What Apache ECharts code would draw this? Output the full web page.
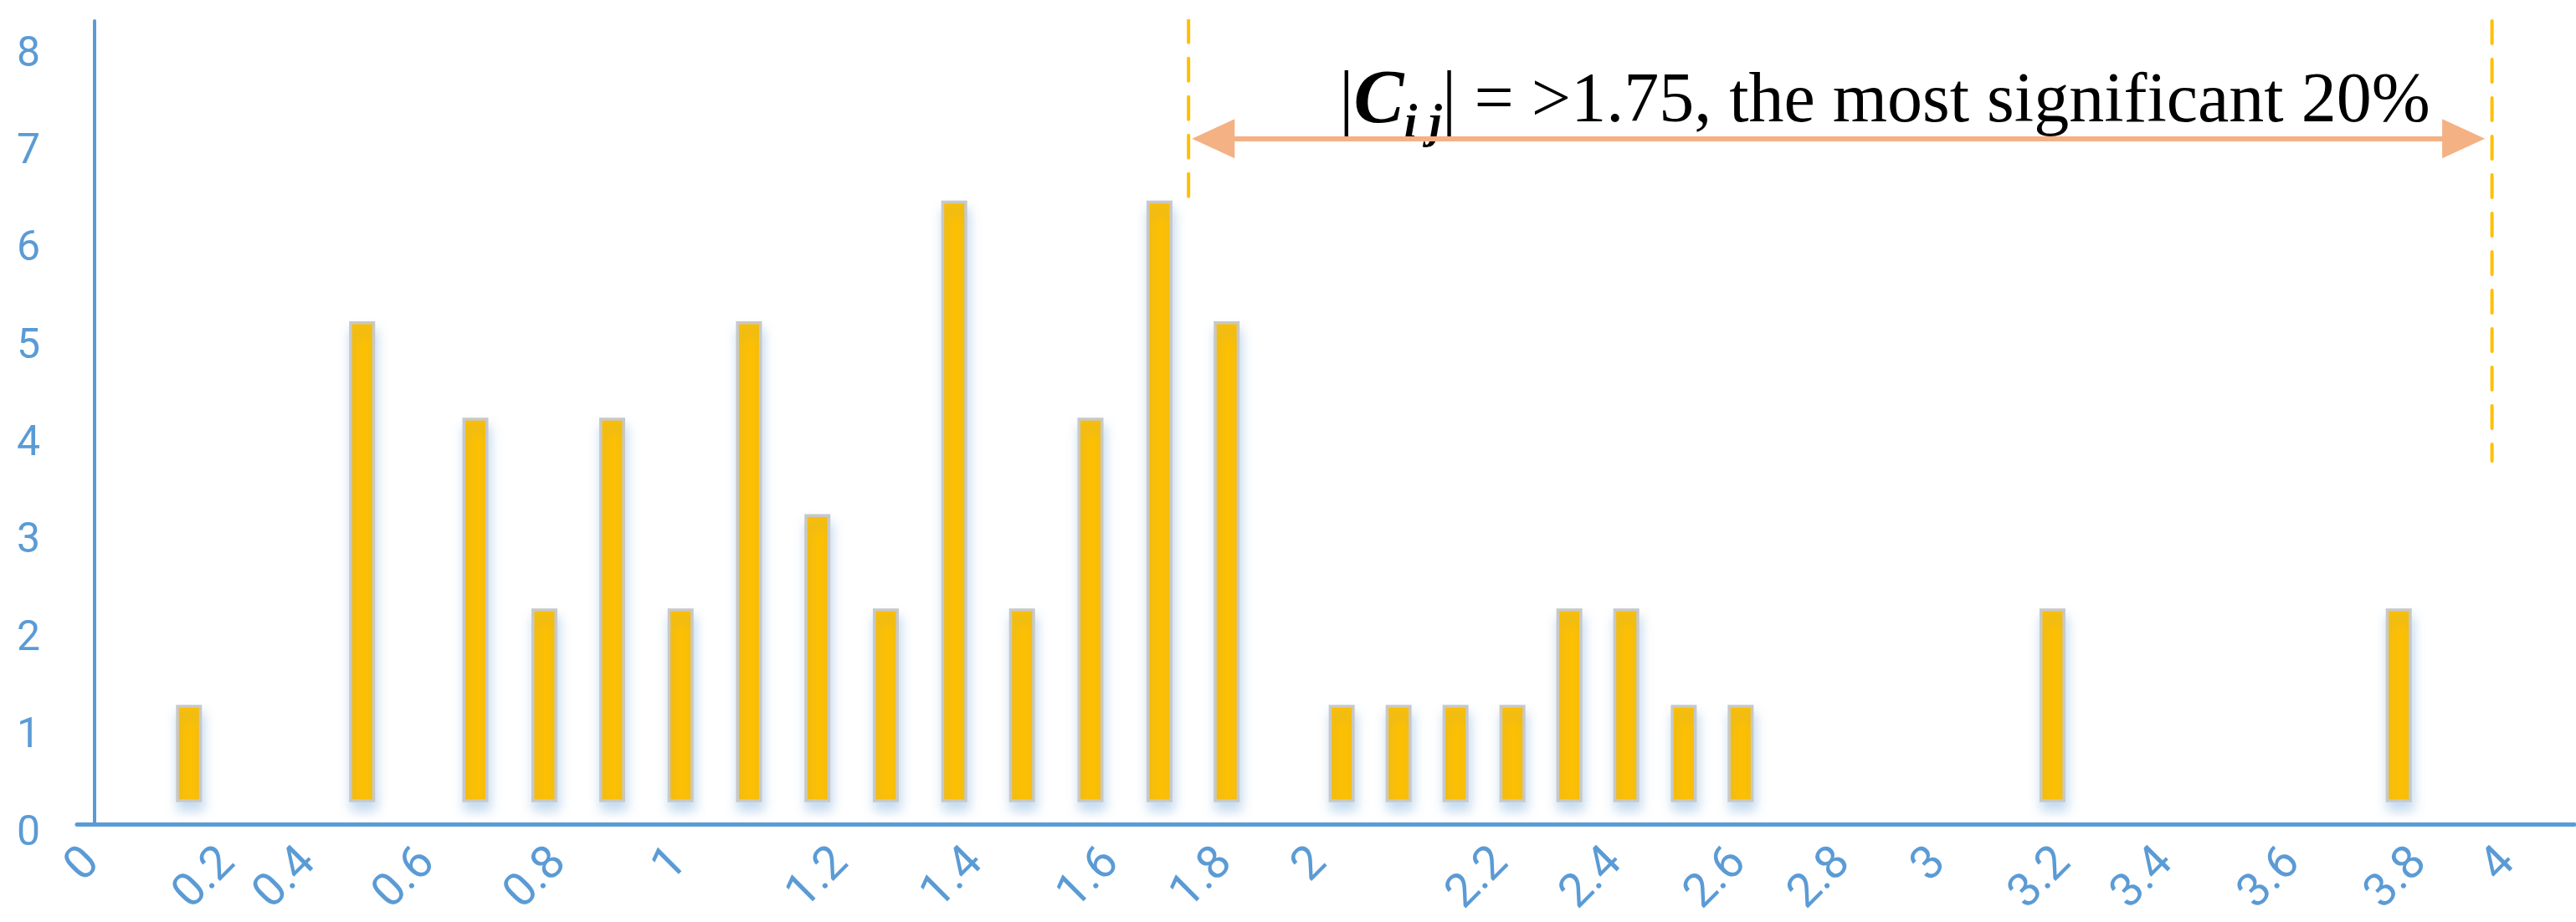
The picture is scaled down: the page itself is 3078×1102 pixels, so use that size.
<!DOCTYPE html>
<html>
<head>
<meta charset="utf-8">
<script src="https://cdn.jsdelivr.net/npm/echarts@6/dist/echarts.min.js"></script>
<style>
  html, body { margin: 0; padding: 0; background: #fff; }
  #chart { width: 3078px; height: 1102px; }
</style>
</head>
<body>
<div id="chart"></div>
<script>
// bar positions along the |Cij| axis
var barX = [0.157, 0.443, 0.630, 0.744, 0.856, 0.969, 1.082, 1.195, 1.308, 1.421, 1.533, 1.646,
            1.760, 1.871, 2.061, 2.155, 2.249, 2.343, 2.437, 2.531, 2.626, 2.720, 3.235, 3.807];
// top of each bar (y axis units)
var barTop = [1.21, 5.15, 4.16, 2.20, 4.16, 2.20, 5.15, 3.17, 2.20, 6.39, 2.20, 4.16,
              6.39, 5.15, 1.21, 1.21, 1.21, 1.21, 2.20, 2.20, 1.21, 1.21, 2.20, 2.20];
// bars float a little above the axis
var barBase = 0.24;

// x tick labels and where they sit
var xTickLabels = ['0', '0.2', '0.4', '0.6', '0.8', '1', '1.2', '1.4', '1.6', '1.8', '2',
                   '2.2', '2.4', '2.6', '2.8', '3', '3.2', '3.4', '3.6', '3.8', '4'];
var xTickPos = [-0.002, 0.222, 0.355, 0.552, 0.769, 0.968, 1.235, 1.457, 1.682, 1.869, 2.025,
                2.325, 2.513, 2.718, 2.890, 3.048, 3.254, 3.423, 3.633, 3.842, 3.988];

// threshold annotation: dashed guides and the double arrow
var guideLeft = [[1.808, 8.26], [1.808, 6.36]];
var guideRight = [[3.961, 8.25], [3.961, 3.73]];
var arrowSpan = { from: 1.849, to: 3.914, y: 7.04 };

var blue = '#5B9BD5';
var labelFont = '"Liberation Sans Narrow", Roboto, "DejaVu Sans", sans-serif';
var barW = 27.5;

var chart = echarts.init(document.getElementById('chart'));

var guideStyle = { color: '#FFC000', width: 4, type: [27, 19], cap: 'round' };

var option = {
    animation: false,
    backgroundColor: '#fff',
    grid: { left: 92, right: 2, top: 25, bottom: 117 },
    xAxis: {
        type: 'value',
        min: -0.028,
        max: 4.097,
        axisLine: { show: true, lineStyle: { color: blue, width: 5 } },
        axisTick: { show: false },
        splitLine: { show: false },
        axisLabel: {
            customValues: xTickPos,
            rotate: 45,
            margin: 38,
            color: blue,
            fontSize: 56,
            fontFamily: labelFont,
            formatter: function (v) {
                var i = xTickPos.indexOf(v);
                return i >= 0 ? xTickLabels[i] : '';
            }
        }
    },
    yAxis: {
        type: 'value',
        min: 0,
        max: 8.25,
        interval: 1,
        axisLine: { show: true, lineStyle: { color: blue, width: 4 } },
        axisTick: { show: false },
        splitLine: { show: false },
        axisLabel: {
            showMaxLabel: false,
            margin: 44,
            color: blue,
            fontSize: 50,
            fontFamily: labelFont,
            verticalAlign: 'top',
            lineHeight: 24
        }
    },
    series: [
        {
            // floating columns, drawn from barBase up to each top
            type: 'custom',
            encode: { x: 0, y: 1 },
            data: barX.map(function (x, i) { return [x, barTop[i]]; }),
            renderItem: function (params, api) {
                var bottom = api.coord([api.value(0), barBase]);
                var top = api.coord([api.value(0), api.value(1)]);
                return {
                    type: 'rect',
                    shape: { x: top[0] - barW / 2, y: top[1], width: barW, height: bottom[1] - top[1] },
                    style: {
                        fill: '#FFC000',
                        stroke: '#C8C8C8',
                        lineWidth: 3.5,
                        shadowColor: 'rgba(91,155,213,0.35)',
                        shadowBlur: 14,
                        shadowOffsetX: 2,
                        shadowOffsetY: 10
                    }
                };
            }
        },
        {
            type: 'line',
            data: guideLeft,
            symbol: 'none',
            silent: true,
            lineStyle: guideStyle
        },
        {
            type: 'line',
            data: guideRight,
            symbol: 'none',
            silent: true,
            lineStyle: guideStyle,
            markLine: {
                silent: true,
                label: { show: false },
                data: [
                    [
                        { coord: [arrowSpan.from, arrowSpan.y], symbol: 'triangle', symbolSize: [47, 51],
                          lineStyle: { color: '#F4B183', width: 6, type: 'solid' } },
                        { coord: [arrowSpan.to, arrowSpan.y], symbol: 'triangle', symbolSize: [47, 51] }
                    ]
                ]
            }
        }
    ],
    graphic: [
        {
            type: 'text',
            x: 1600,
            y: 68,
            silent: true,
            style: {
                text: '{a||}{c|C}{s|i j}{a||}{t| = >1.75, the most significant 20%}',
                verticalAlign: 'top',
                rich: {
                    a: { fontFamily: '"Liberation Serif", serif', fontSize: 88, lineHeight: 110, color: '#000' },
                    c: { fontFamily: '"Liberation Serif", serif', fontSize: 90, lineHeight: 110,
                         fontStyle: 'italic', fontWeight: 'bold', color: '#000' },
                    s: { fontFamily: '"Liberation Serif", serif', fontSize: 56, lineHeight: 54,
                         fontStyle: 'italic', fontWeight: 'bold', color: '#000',
                         verticalAlign: 'top', padding: [54, 0, 0, 0] },
                    t: { fontFamily: '"Liberation Serif", serif', fontSize: 84, lineHeight: 110, color: '#000' }
                }
            }
        }
    ]
};

chart.setOption(option);
</script>
</body>
</html>
